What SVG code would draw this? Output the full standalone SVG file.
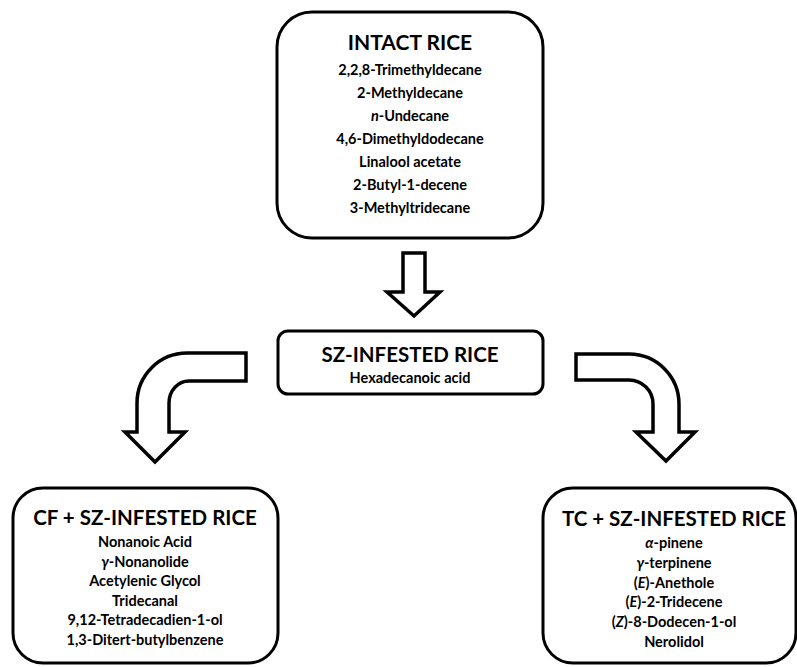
<svg xmlns="http://www.w3.org/2000/svg" width="797" height="667" viewBox="0 0 797 667">
<style>
.box{fill:#fff;stroke:#000;stroke-width:3}
.arr{fill:#fff;stroke:#000;stroke-width:3.5;stroke-linejoin:miter}
text{font-family:Lato,"Open Sans","Liberation Sans",sans-serif;font-weight:bold;fill:#000;text-anchor:middle}
.t1{font-size:21px}
.t2{font-size:20.5px}
.it{font-size:14.5px}
.i{font-style:italic}
</style>
<rect width="797" height="667" fill="#fff"/>
<g id="connectors">
<path class="arr" d="M403,253 H425 V292 H440 L414,316 L387,292 H403 Z"/>
<path class="arr" d="M246,353 H187 A50,50 0 0 0 137,403 V432 H125 L155,462 L185,432 H169 V403 A20,22 0 0 1 189,381 H246 Z"/>
<path class="arr" d="M576,354 H629 A50,50 0 0 1 679,404 V432 H695 L666,461 L636,432 H653 V404 A24,24 0 0 0 629,380 H576 Z"/>
</g>
<g id="intact">
<rect class="box" x="277" y="12" width="266" height="226" rx="35"/>
<text class="t1" x="410" y="50">INTACT RICE</text>
<text class="it" x="410" y="75">2,2,8-Trimethyldecane</text>
<text class="it" x="410" y="98">2-Methyldecane</text>
<text class="it" x="410" y="121"><tspan class="i">n</tspan>-Undecane</text>
<text class="it" x="410" y="144">4,6-Dimethyldodecane</text>
<text class="it" x="410" y="167">Linalool acetate</text>
<text class="it" x="410" y="190">2-Butyl-1-decene</text>
<text class="it" x="410" y="213">3-Methyltridecane</text>
</g>
<g id="sz">
<rect class="box" x="278" y="331" width="265" height="63" rx="10"/>
<text class="t2" x="410" y="362">SZ-INFESTED RICE</text>
<text class="it" x="410" y="383">Hexadecanoic acid</text>
</g>
<g id="cf">
<rect class="box" x="13" y="488" width="265" height="175" rx="30"/>
<text class="t2" x="145" y="525">CF + SZ-INFESTED RICE</text>
<text class="it" x="145" y="547">Nonanoic Acid</text>
<text class="it" x="145" y="566.6"><tspan class="i">γ</tspan>-Nonanolide</text>
<text class="it" x="145" y="586.2">Acetylenic Glycol</text>
<text class="it" x="145" y="605.8">Tridecanal</text>
<text class="it" x="145" y="625.4">9,12-Tetradecadien-1-ol</text>
<text class="it" x="145" y="645">1,3-Ditert-butylbenzene</text>
</g>
<g id="tc">
<rect class="box" x="543" y="488" width="253" height="175" rx="30"/>
<text class="t2" x="674" y="526">TC + SZ-INFESTED RICE</text>
<text class="it" x="674" y="548"><tspan class="i">α</tspan>-pinene</text>
<text class="it" x="674" y="567.8"><tspan class="i">γ</tspan>-terpinene</text>
<text class="it" x="674" y="587.6">(<tspan class="i">E</tspan>)-Anethole</text>
<text class="it" x="674" y="607.4">(<tspan class="i">E</tspan>)-2-Tridecene</text>
<text class="it" x="674" y="627.2">(<tspan class="i">Z</tspan>)-8-Dodecen-1-ol</text>
<text class="it" x="674" y="647">Nerolidol</text>
</g>
</svg>
